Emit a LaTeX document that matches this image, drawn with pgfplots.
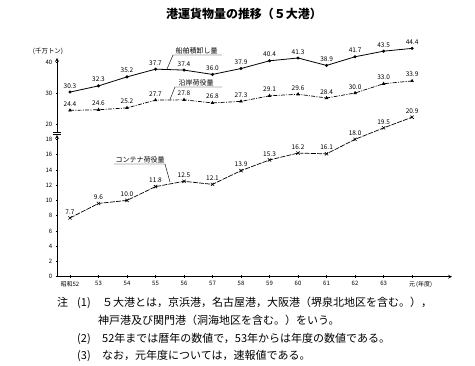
\documentclass[border=0pt]{standalone}
\usepackage{fontspec}
\setmainfont{Noto Sans CJK JP}
\usepackage{pgfplots}
\usepackage{pgfplotstable}
\pgfplotsset{compat=1.18}

\pgfplotstableread{
x top mid cont
0 30.3 24.4 7.7
1 32.3 24.6 9.6
2 35.2 25.2 10.0
3 37.7 27.7 11.8
4 37.4 27.8 12.5
5 36.0 26.8 12.1
6 37.9 27.3 13.9
7 40.4 29.1 15.3
8 41.3 29.6 16.2
9 38.9 28.4 16.1
10 41.7 30.0 18.0
11 43.5 33.0 19.5
12 44.4 33.9 20.9
}\data

\pgfplotsset{
  common/.style={
    scale only axis, anchor=south west,
    width=395pt, xmin=-0.456, xmax=13.4,
    axis line style={-, line width=0.7pt},
    tick align=inside, major tick length=2.5pt,
    tick style={line width=0.5pt, black},
    ticklabel style={font=\fontsize{6}{7}\selectfont},
    /pgf/number format/assume math mode=true,
    clip=false,
  },
  lbl/.style={
    nodes near coords={\pgfmathprintnumber[fixed,fixed zerofill,precision=1]{\pgfplotspointmeta}},
    point meta=y,
    every node near coord/.append style={font=\fontsize{6.5}{7}\selectfont, inner sep=1pt, yshift=2.5pt, black},
  },
}

\begin{document}
\begin{tikzpicture}
\useasboundingbox (0,0) rectangle (475pt,366pt);

% lower axis 0-18
\begin{axis}[common,
  at={(57pt,89.3pt)}, height=141.7pt,
  ymin=0, ymax=18.57,
  axis x line=bottom, axis y line=left,
  xtick={0,...,12},
  xticklabels={昭和52,53,54,55,56,57,58,59,60,61,62,63,{元\rlap{\,(年度)}}},
  ytick={0,2,...,18},
]
\addplot[black, line width=0.7pt, dash pattern=on 5pt off 1.2pt,
  mark=x, mark size=2.3pt, mark options={solid, line width=0.6pt}, lbl]
  table[x=x, y=cont] {\data};
\end{axis}

% upper axis 20-40
\begin{axis}[common,
  at={(57pt,234pt)}, height=74pt,
  ymin=17.42, ymax=41.3,
  axis x line=none, axis y line=left,
  xtick=\empty,
  ytick={20,30,40},
]
\addplot[black, line width=0.8pt, mark=*, mark size=1.1pt, lbl]
  table[x=x, y=top] {\data};
\addplot[black, line width=0.7pt, dash pattern=on 4pt off 1.3pt on 1pt off 1.3pt,
  mark=triangle*, mark size=1.4pt, mark options={solid}, lbl]
  table[x=x, y=mid] {\data};
\end{axis}

% axis break
\fill[white] (53pt,231.3pt) rectangle (61pt,233.7pt);
\draw[line width=0.6pt] (53pt,231.3pt) -- (61pt,231.3pt);
\draw[line width=0.6pt] (53pt,233.7pt) -- (61pt,233.7pt);

% unit
\node[font=\fontsize{6.5}{7}\selectfont] at (48pt,315pt) {(千万トン)};

% title
\node[font=\fontsize{12}{14}\selectfont\bfseries] at (244pt,352pt) {港運貨物量の推移（５大港）};

% series labels with leaders
\node[font=\fontsize{7}{8}\selectfont, anchor=south west, inner sep=0.5pt] at (175pt,311.5pt) {船舶積卸し量};
\draw[line width=0.45pt] (222pt,311pt) -- (173pt,311pt) -- (167pt,297pt);
\node[font=\fontsize{7}{8}\selectfont, anchor=south west, inner sep=0.5pt] at (178pt,279.5pt) {沿岸荷役量};
\draw[line width=0.45pt] (222pt,279pt) -- (175pt,279pt) -- (170pt,266.5pt);
\node[font=\fontsize{7}{8}\selectfont, anchor=south west, inner sep=0.5pt] at (115pt,202.5pt) {コンテナ荷役量};
\draw[line width=0.45pt] (114pt,202pt) -- (165pt,202pt) -- (170pt,184pt);

% notes
\begin{scope}[every node/.style={font=\fontsize{11}{12}\selectfont, inner sep=0pt, anchor=base west}]
\node at (57pt,59pt) {注};
\node at (77pt,59pt) {(1)};
\node at (102pt,59pt) {５大港とは，京浜港，名古屋港，大阪港（堺泉北地区を含む。），};
\node at (98pt,41pt) {神戸港及び関門港（洞海地区を含む。）をいう。};
\node at (77pt,23.5pt) {(2)};
\node at (102pt,23.5pt) {52年までは暦年の数値で，53年からは年度の数値である。};
\node at (77pt,6pt) {(3)};
\node at (102pt,6pt) {なお，元年度については，速報値である。};
\end{scope}
\end{tikzpicture}
\end{document}
